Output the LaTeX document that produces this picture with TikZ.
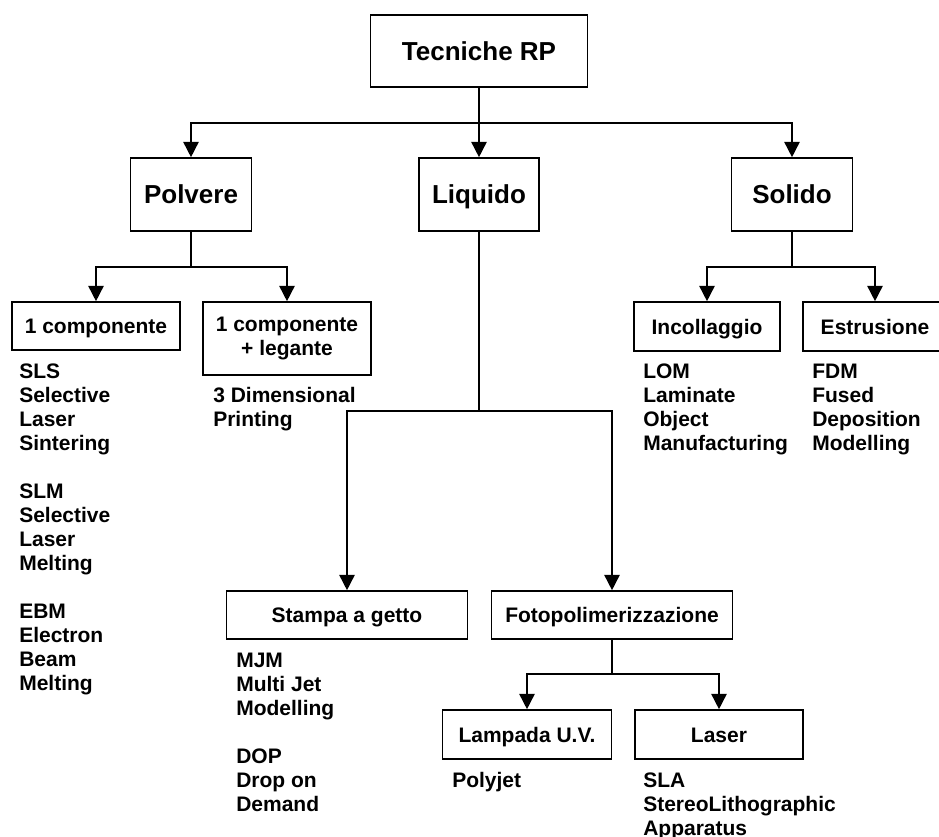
\documentclass[tikz,border=0pt]{standalone}
\usepackage{fontspec}
\setmainfont{Liberation Sans}
\usetikzlibrary{arrows.meta}
\begin{document}
\begin{tikzpicture}[x=0.75pt,y=-0.75pt,
  every node/.style={font=\bfseries},
  bigfont/.style={font=\fontsize{19.5}{22}\selectfont\bfseries,text height=14pt,text depth=0pt},
  smallfont/.style={font=\fontsize{15.75}{18}\selectfont\bfseries},
  smallone/.style={smallfont,text height=11.3pt,text depth=0pt},
  boxw/.style 2 args={draw,line width=1.2pt,inner sep=0pt,align=center,
    minimum width=#1*0.75pt,minimum height=#2*0.75pt},
  listtext/.style={smallfont,inner sep=0pt,anchor=north west,align=left},
  link/.style={line width=1.2pt},
  arr/.style={line width=1.2pt,-{Triangle[width=11.5pt,length=11.5pt]}}]
\useasboundingbox (0,0) rectangle (939,837);
\clip (0,0) rectangle (939,837);

% root and first level
\node[boxw={217}{72},bigfont] (root) at (479,51) {Tecniche RP};
\node[boxw={121}{73},bigfont] (polvere) at (191,194.5) {Polvere};
\node[boxw={120}{73},bigfont] (liquido) at (479,194.5) {Liquido};
\node[boxw={121}{73},bigfont] (solido) at (792,194.5) {Solido};

% powder branch
\node[boxw={168}{48},smallone] (comp1) at (96,326) {1 componente};
\node[boxw={168}{73},smallfont] (comp2) at (287,338.5) {1 componente\\+ legante};

% solid branch
\node[boxw={146}{49},smallone] (incoll) at (707,326.5) {Incollaggio};
\node[boxw={144}{49},smallone] (estr) at (875,326.5) {Estrusione};

% liquid branch
\node[boxw={241}{48},smallone] (stampa) at (347,615) {Stampa a getto};
\node[boxw={241}{48},smallone] (foto) at (612,615) {Fotopolimerizzazione};
\node[boxw={169}{49},smallone] (lampada) at (527,734.5) {Lampada U.V.};
\node[boxw={168}{49},smallone] (laser) at (719,734.5) {Laser};

% junction points
\coordinate (j1) at (479,123);
\coordinate (j2) at (191,267);
\coordinate (j3) at (479,411);
\coordinate (j4) at (612,674);
\coordinate (j5) at (792,267);

% connectors
\draw[link] (root.south) -- (j1);
\draw[arr] (j1) -| (polvere.north);
\draw[arr] (j1) -- (liquido.north);
\draw[arr] (j1) -| (solido.north);

\draw[link] (polvere.south) -- (j2);
\draw[arr] (j2) -| (comp1.north);
\draw[arr] (j2) -| (comp2.north);

\draw[link] (liquido.south) -- (j3);
\draw[arr] (j3) -| (stampa.north);
\draw[arr] (j3) -| (foto.north);

\draw[link] (foto.south) -- (j4);
\draw[arr] (j4) -| (lampada.north);
\draw[arr] (j4) -| (laser.north);

\draw[link] (solido.south) -- (j5);
\draw[arr] (j5) -| (incoll.north);
\draw[arr] (j5) -| (estr.north);

% technique lists (each starts with a strut so the top sits one strut above the first baseline)
\node[listtext] (sls) at (19,361.2) {\strut SLS\\Selective\\Laser\\Sintering\\[18pt]SLM\\Selective\\Laser\\Melting\\[18pt]EBM\\Electron\\Beam\\Melting};
\node[listtext] (tdp) at (213,385.2) {\strut 3 Dimensional\\Printing};
\node[listtext] (lom) at (643,361.2) {\strut LOM\\Laminate\\Object\\Manufacturing};
\node[listtext] (fdm) at (812,361.2) {\strut FDM\\Fused\\Deposition\\Modelling};
\node[listtext] (mjm) at (236,650.2) {\strut MJM\\Multi Jet\\Modelling\\[18pt]DOP\\Drop on\\Demand};
\node[listtext] (poly) at (452,770.2) {\strut Polyjet};
\node[listtext] (sla) at (643,770.2) {\strut SLA\\StereoLithographic\\Apparatus};
\end{tikzpicture}
\end{document}
